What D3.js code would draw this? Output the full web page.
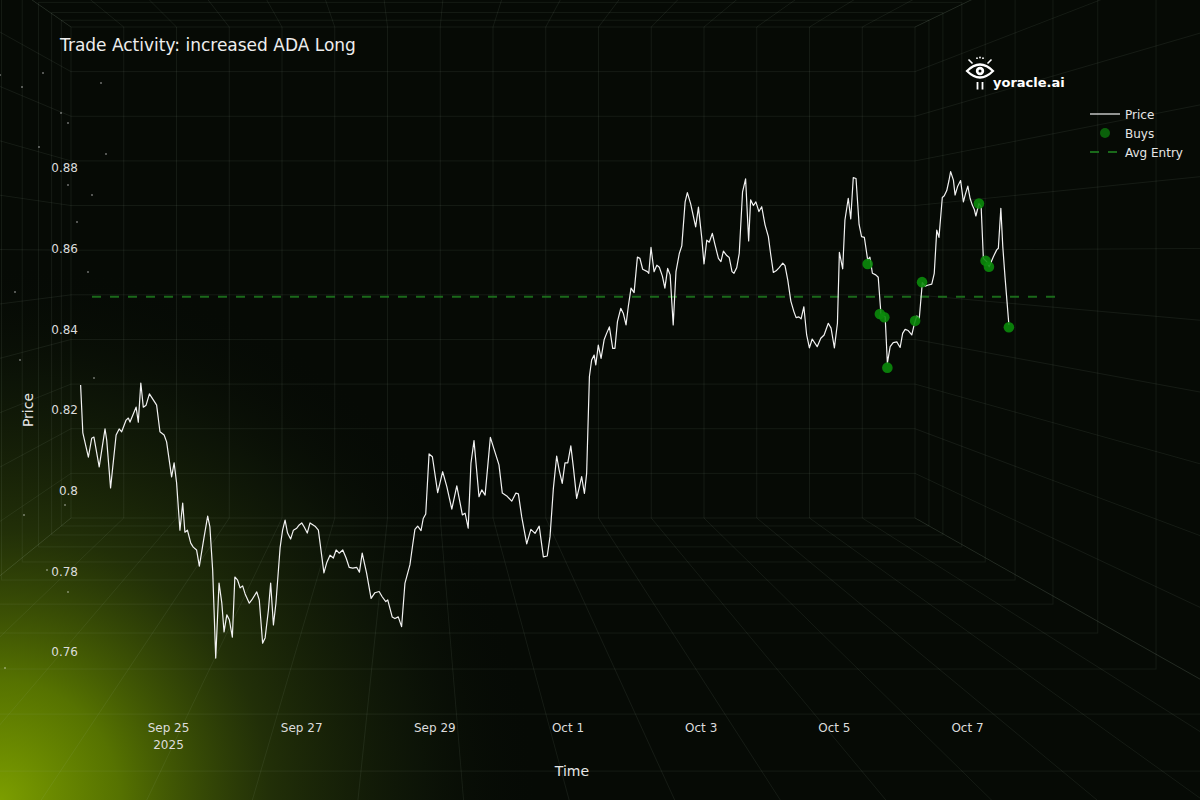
<!doctype html>
<html lang="en">
<head>
<meta charset="UTF-8">
<title>Trade Activity: increased ADA Long</title>
<script src="https://d3js.org/d3.v7.min.js"></script>
<style>
    html, body { margin: 0; padding: 0; background: #060a05; }
    svg { display: block; }
    text { font-family: "DejaVu Sans", sans-serif; }
</style>
</head>
<body>
<div class="container"></div>
<script>
    // data: hourly ADA price, hours counted from Sep 23 17:00
    const startTime = new Date(2025, 8, 23, 17);

    const priceHours = [
        -0.5, 0.3, 2.3, 3.5, 4.3, 6.2, 8.3, 8.9, 10.3, 12.3, 13.4, 14.3, 15.9, 16.7, 17.3, 19.5, 20.3, 21.2, 22.1, 23.1,
        24.3, 25.7, 26.9, 28.1, 29.6, 30.5, 32.3, 33.2, 34.1, 35.3, 36.3, 37.1, 38.0, 39.2, 40.1, 41.3, 42.3, 44.0, 45.3, 46.1,
        47.1, 48.2, 49.4, 50.4, 51.2, 52.2, 53.1, 54.2, 55.1, 56.1, 57.0, 57.9, 58.8, 60.3, 61.2, 63.0, 63.9, 65.1, 66.0, 67.2,
        68.0, 69.0, 69.9, 71.4, 72.3, 73.2, 74.1, 75.2, 76.2, 77.4, 78.3, 79.2, 80.1, 81.2, 82.2, 84.0, 85.2, 86.0, 87.2, 88.2,
        89.4, 90.6, 91.6, 92.7, 94.0, 95.2, 96.3, 97.6, 99.0, 100.0,
        101.0, 102.6, 104.2, 105.6, 107.1, 108.2, 109.5, 110.2, 111.8, 112.8, 114.0, 115.2, 116.4, 118.2, 119.1, 120.0, 121.0,
        122.2, 123.0, 123.9, 125.1, 126.3, 128.2, 130.0, 131.5, 133.3, 135.1, 137.1, 138.1, 139.2, 140.2, 141.3, 143.1, 144.1,
        145.3, 147.2, 148.6, 150.3, 151.5, 153.1, 154.9, 156.4, 157.3, 158.5, 160.3, 161.8, 163.3, 164.8, 166.3, 167.7, 168.7,
        169.9, 171.1, 172.0, 173.1, 174.1, 175.1, 176.2, 177.1, 178.3, 179.3, 180.1, 181.1, 181.9, 182.9, 183.7, 184.6, 185.2,
        186.1, 187.1, 188.2, 189.1, 190.1, 191.3, 192.1, 193.0, 194.2, 195.1, 196.1, 196.9, 197.9, 199.0, 200.2, 201.1, 202.1,
        203.8, 204.3, 205.1, 206.2, 207.2, 208.1, 209.2, 210.1, 211.1, 212.0, 213.1, 214.1, 215.3, 216.2, 217.4, 218.2, 219.4,
        221.2, 222.2, 223.4, 224.2, 225.2, 226.1,
        227.2, 228.2, 229.4, 230.3, 231.2, 232.4, 233.3, 234.3, 235.0, 236.0, 236.9, 238.1, 239.2, 240.3, 241.0, 242.0, 242.9,
        244.0, 245.0, 246.2, 247.4, 248.2, 249.2, 250.2, 251.3, 252.6, 253.4, 254.4, 255.5, 256.6, 257.4, 258.4, 259.2, 260.2,
        261.2, 262.2, 263.2, 265.0, 266.3, 267.5, 269.0, 270.0, 271.2, 272.3, 273.0, 274.2, 275.0, 276.2, 277.1, 278.0, 279.0,
        280.1, 281.0, 282.0, 283.2, 284.0, 284.9, 286.1, 287.0, 288.0, 289.5, 290.3, 291.3, 292.4, 293.7, 294.9, 295.8, 296.7,
        297.8, 299.1, 300.0, 300.9, 301.8, 302.9, 303.9, 305.1, 306.3, 307.2, 308.1, 308.9, 310.1, 310.8, 311.7, 312.5, 313.1,
        314.1, 314.7, 315.6, 316.7, 317.7, 318.5, 319.3, 320.1, 320.9, 321.6, 322.2, 323.3, 324.1, 324.9, 326.1, 327.0, 328.5,
        329.7, 330.3, 331.2, 331.9, 332.7, 334.1
    ];

    const priceValues = [
        0.8262, 0.8143, 0.8083, 0.8130, 0.8133, 0.8059, 0.8153, 0.8126, 0.8007, 0.8138, 0.8153, 0.8146, 0.8175, 0.8180, 0.8170, 0.8207, 0.8170, 0.8267, 0.8207, 0.8212,
        0.8240, 0.8225, 0.8212, 0.8146, 0.8138, 0.8121, 0.8034, 0.8069, 0.8019, 0.7902, 0.7969, 0.7897, 0.7902, 0.7870, 0.7860, 0.7853, 0.7813, 0.7885, 0.7937, 0.7910,
        0.7803, 0.7585, 0.7771, 0.7721, 0.7650, 0.7692, 0.7680, 0.7637, 0.7786, 0.7778, 0.7759, 0.7764, 0.7744, 0.7721, 0.7729, 0.7749, 0.7729, 0.7622, 0.7635, 0.7704,
        0.7771, 0.7667, 0.7721, 0.7858, 0.7902, 0.7927, 0.7895, 0.7880, 0.7902, 0.7907, 0.7915, 0.7920, 0.7910, 0.7895, 0.7920, 0.7912, 0.7902, 0.7860, 0.7796, 0.7821,
        0.7840, 0.7833, 0.7853, 0.7845, 0.7853, 0.7833, 0.7810, 0.7808, 0.7810, 0.7798,
        0.7845, 0.7795, 0.7733, 0.7747, 0.7750, 0.7737, 0.7725, 0.7729, 0.7687, 0.7683, 0.7687, 0.7663, 0.7770, 0.7816, 0.7861, 0.7904, 0.7912,
        0.7901, 0.7931, 0.7942, 0.8091, 0.8084, 0.7995, 0.8047, 0.8010, 0.7954, 0.8012, 0.7940, 0.7944, 0.7907, 0.8068, 0.8124, 0.7985, 0.8002,
        0.7989, 0.8132, 0.8101, 0.8064, 0.7994, 0.7987, 0.7974, 0.7994, 0.7992, 0.7935, 0.7868, 0.7904, 0.7894, 0.7912, 0.7836, 0.7838, 0.7886,
        0.8005, 0.8086, 0.8051, 0.8018, 0.8069, 0.8069, 0.8111, 0.8059, 0.7981, 0.8010, 0.8035, 0.7993, 0.8043, 0.8283, 0.8324, 0.8336, 0.8312,
        0.8361, 0.8328, 0.8374, 0.8390, 0.8406, 0.8353, 0.8353, 0.8419, 0.8452, 0.8440, 0.8411, 0.8456, 0.8502, 0.8491, 0.8579, 0.8576, 0.8549,
        0.8543, 0.8539, 0.8603, 0.8543, 0.8559, 0.8554, 0.8532, 0.8502, 0.8551, 0.8535, 0.8411, 0.8543, 0.8588, 0.8607, 0.8716, 0.8739, 0.8711,
        0.8654, 0.8703, 0.8626, 0.8562, 0.8621, 0.8616,
        0.8638, 0.8609, 0.8576, 0.8568, 0.8594, 0.8583, 0.8578, 0.8543, 0.8539, 0.8553, 0.8588, 0.8741, 0.8773, 0.8619, 0.8721, 0.8707, 0.8716,
        0.8692, 0.8704, 0.8659, 0.8630, 0.8588, 0.8541, 0.8545, 0.8553, 0.8564, 0.8558, 0.8522, 0.8470, 0.8444, 0.8429, 0.8431, 0.8426, 0.8456,
        0.8386, 0.8354, 0.8376, 0.8357, 0.8378, 0.8386, 0.8415, 0.8403, 0.8354, 0.8415, 0.8591, 0.8550, 0.8671, 0.8725, 0.8674, 0.8776, 0.8774,
        0.8660, 0.8630, 0.8628, 0.8572, 0.8579, 0.8539, 0.8535, 0.8529, 0.8436, 0.8431, 0.8316, 0.8357, 0.8367, 0.8369, 0.8355, 0.8390, 0.8400,
        0.8397, 0.8386, 0.8413, 0.8433, 0.8427, 0.8516, 0.8507, 0.8510, 0.8512, 0.8539, 0.8646, 0.8628, 0.8727, 0.8731, 0.8744, 0.8769, 0.8791,
        0.8770, 0.8733, 0.8754, 0.8769, 0.8716, 0.8737, 0.8755, 0.8725, 0.8708, 0.8698, 0.8681, 0.8712, 0.8704, 0.8576, 0.8568, 0.8555, 0.8580,
        0.8597, 0.8601, 0.8700, 0.8605, 0.8530, 0.8411
    ];

    // buys
    const buyHours = [283.2, 287.6, 289.2, 290.3, 300.3, 302.8, 323.3, 325.7, 326.9, 334.1];
    const buyValues = [0.8562, 0.8438, 0.8430, 0.8305, 0.8421, 0.8517, 0.8712, 0.8570, 0.8555, 0.8405];

    // average entry, and the hours it is drawn between
    const avgEntry = 0.8481;
    const avgEntryHours = [3.6, 353.2];

    const yTicks = [0.76, 0.78, 0.80, 0.82, 0.84, 0.86, 0.88];
    const xTickDates = [
        new Date(2025, 8, 25), new Date(2025, 8, 27), new Date(2025, 8, 29), new Date(2025, 9, 1),
        new Date(2025, 9, 3), new Date(2025, 9, 5), new Date(2025, 9, 7)
    ];

    const legendItems = ['Price', 'Buys', 'Avg Entry'];

    let width = 1200, height = 800;
    let hourToDate = h => new Date(startTime.getTime() + h * 3600e3);

    let svg = d3.select('.container')
        .append('svg')
        .attr('width', width)
        .attr('height', height);

    let defs = svg.append('defs');
    let glow = defs.append('radialGradient')
        .attr('id', 'glow')
        .attr('gradientUnits', 'userSpaceOnUse')
        .attr('cx', 0).attr('cy', height).attr('r', 540);
    [[0, '#7c9e00', 1], [0.22, '#5f7e00', 0.9], [0.5, '#34480a', 0.6], [0.78, '#16220a', 0.4], [1, '#060a05', 0]]
        .forEach(s => glow.append('stop')
            .attr('offset', s[0]).attr('stop-color', s[1]).attr('stop-opacity', s[2]));

    //nen
    svg.append('rect').attr('width', width).attr('height', height).attr('fill', '#060a05');
    svg.append('rect').attr('width', width).attr('height', height).attr('fill', 'url(#glow)');

    // decorative room grid in perspective
    let room = svg.append('g')
        .attr('fill', 'none')
        .attr('stroke', '#a9c2a9')
        .attr('stroke-opacity', 0.095)
        .attr('stroke-width', 1);

    let vp = {x: 417, y: 253};
    let wall = {x0: 71, x1: 915, y0: 27, y1: 518};
    let cols = 16, rows = 11;
    let sx = [1.028, 1.056, 1.094, 1.141, 1.201, 1.277, 1.367, 1.484, 1.64, 1.85, 2.15, 2.6];
    let sy = [1.03, 1.064, 1.109, 1.166, 1.234, 1.325, 1.434, 1.57, 1.74, 1.955, 2.25, 2.7];
    let gx = d3.range(cols + 1).map(i => wall.x0 + (wall.x1 - wall.x0) * i / cols);
    let gy = d3.range(rows + 1).map(j => wall.y0 + (wall.y1 - wall.y0) * j / rows);
    let px = (x, s) => vp.x + (x - vp.x) * s;
    let py = (y, s) => vp.y + (y - vp.y) * s;
    let sxMax = sx[sx.length - 1], syMax = sy[sy.length - 1];

    gx.forEach(x => {
        room.append('line').attr('x1', x).attr('x2', x).attr('y1', wall.y0).attr('y2', wall.y1);
        room.append('line').attr('x1', x).attr('y1', wall.y1).attr('x2', px(x, sxMax)).attr('y2', py(wall.y1, syMax));
        room.append('line').attr('x1', x).attr('y1', wall.y0).attr('x2', px(x, sxMax)).attr('y2', py(wall.y0, syMax));
    });
    gy.forEach(y => {
        room.append('line').attr('y1', y).attr('y2', y).attr('x1', wall.x0).attr('x2', wall.x1);
        room.append('line').attr('x1', wall.x0).attr('y1', y).attr('x2', px(wall.x0, sxMax)).attr('y2', py(y, syMax));
        room.append('line').attr('x1', wall.x1).attr('y1', y).attr('x2', px(wall.x1, sxMax)).attr('y2', py(y, syMax));
    });
    sx.forEach((s, k) => {
        let x0 = px(wall.x0, s), x1 = px(wall.x1, s);
        let y0 = py(wall.y0, sy[k]), y1 = py(wall.y1, sy[k]);
        room.append('rect').attr('x', x0).attr('y', y0).attr('width', x1 - x0).attr('height', y1 - y0);
    });

    // bui sang
    let stars = [[0, 75], [43, 73], [101, 83], [22, 87], [61, 113], [68, 123], [39, 147], [106, 154], [68, 185],
        [92, 195], [77, 222], [88, 272], [15, 292], [20, 360], [94, 378], [65, 505], [24, 515], [47, 570], [68, 592], [5, 668]];
    svg.append('g').selectAll('circle').data(stars).join('circle')
        .attr('cx', d => d[0]).attr('cy', d => d[1]).attr('r', 0.8)
        .attr('fill', '#ffffff').attr('opacity', 0.7);

    // scales
    let x = d3.scaleTime()
        .domain([xTickDates[0], xTickDates[xTickDates.length - 1]])
        .range([168, 967]);
    let y = d3.scaleLinear()
        .domain([0.76, 0.88])
        .range([652, 168]);

    // y axis
    let yAxis = svg.append('g')
        .attr('transform', 'translate(80,0)')
        .call(d3.axisLeft(y).tickValues(yTicks).tickSize(0).tickPadding(2).tickFormat(d3.format('~g')));
    yAxis.select('.domain').remove();
    yAxis.selectAll('text')
        .attr('fill', '#dcdcdc')
        .style('font-size', '12px')
        .style('font-family', '"DejaVu Sans", sans-serif');

    // x axis
    let xAxis = svg.append('g')
        .attr('transform', 'translate(0,716)')
        .call(d3.axisBottom(x).tickValues(xTickDates).tickSize(0).tickPadding(7).tickFormat(d3.timeFormat('%b %-d')));
    xAxis.select('.domain').remove();
    xAxis.selectAll('text')
        .attr('fill', '#dcdcdc')
        .style('font-size', '12px')
        .style('font-family', '"DejaVu Sans", sans-serif');
    xAxis.select('.tick text')
        .append('tspan')
        .attr('x', 0)
        .attr('dy', '1.42em')
        .text(d3.timeFormat('%Y')(xTickDates[0]));

    // axis titles
    svg.append('text')
        .attr('x', 572).attr('y', 776)
        .attr('text-anchor', 'middle')
        .attr('fill', '#e6e6e6')
        .style('font-size', '14px')
        .text('Time');
    svg.append('text')
        .attr('transform', 'translate(33,410) rotate(-90)')
        .attr('text-anchor', 'middle')
        .attr('fill', '#e6e6e6')
        .style('font-size', '14px')
        .text('Price');

    // avg entry
    svg.append('line')
        .attr('x1', x(hourToDate(avgEntryHours[0])))
        .attr('x2', x(hourToDate(avgEntryHours[1])))
        .attr('y1', y(avgEntry))
        .attr('y2', y(avgEntry))
        .attr('stroke', '#1f7a1f')
        .attr('stroke-opacity', 0.85)
        .attr('stroke-width', 2)
        .attr('stroke-dasharray', '9,9');

    // price
    let line = d3.line()
        .x((d, i) => x(hourToDate(priceHours[i])))
        .y(d => y(d));
    svg.append('path')
        .datum(priceValues)
        .attr('d', line)
        .attr('fill', 'none')
        .attr('stroke', '#f2f2f2')
        .attr('stroke-width', 1.2)
        .attr('stroke-linejoin', 'round');

    // buys
    svg.append('g').selectAll('circle')
        .data(buyValues)
        .join('circle')
        .attr('cx', (d, i) => x(hourToDate(buyHours[i])))
        .attr('cy', d => y(d))
        .attr('r', 5.3)
        .attr('fill', '#0b8a0b')
        .attr('opacity', 0.9);

    // title
    svg.append('text')
        .attr('x', 60).attr('y', 51)
        .attr('fill', '#eeeeee')
        .style('font-size', '17px')
        .text('Trade Activity: increased ADA Long');

    // logo
    let logo = svg.append('g').attr('transform', 'translate(980,71)');
    logo.append('path')
        .attr('d', 'M-13,0 Q0,-13 13,0 Q0,13 -13,0 Z')
        .attr('fill', 'none')
        .attr('stroke', '#ffffff')
        .attr('stroke-width', 2.2);
    logo.append('circle').attr('r', 4.2).attr('fill', '#ffffff');
    logo.append('circle').attr('r', 1.5).attr('fill', '#060a05');
    logo.append('line').attr('x1', -11.5).attr('y1', -11.5).attr('x2', -7.5).attr('y2', -7.5)
        .attr('stroke', '#fff').attr('stroke-width', 1.6);
    logo.append('line').attr('x1', 11.5).attr('y1', -11.5).attr('x2', 7.5).attr('y2', -7.5)
        .attr('stroke', '#fff').attr('stroke-width', 1.6);
    [-3, 0, 3].forEach(dx => logo.append('circle')
        .attr('cx', dx).attr('cy', dx === 0 ? -13.5 : -12.8).attr('r', 0.9).attr('fill', '#fff'));
    [-2.5, 2.5].forEach(dx => logo.append('rect')
        .attr('x', dx - 0.9).attr('y', 11).attr('width', 1.8).attr('height', 7.5).attr('fill', '#fff'));
    svg.append('text')
        .attr('x', 993).attr('y', 87)
        .attr('fill', '#ffffff')
        .style('font-size', '13px')
        .style('font-weight', 'bold')
        .text('yoracle.ai');

    // legend
    let legend = svg.append('g').attr('transform', 'translate(1090,114)');
    legendItems.forEach((name, i) => {
        let g = legend.append('g').attr('transform', 'translate(0,' + (i * 19) + ')');
        if (i === 0) {
            g.append('line').attr('x1', 0).attr('x2', 30).attr('stroke', '#f2f2f2').attr('stroke-width', 1.2);
        } else if (i === 1) {
            g.append('circle').attr('cx', 15).attr('r', 5).attr('fill', '#0b6a0b').attr('opacity', 0.9);
        } else {
            g.append('line').attr('x1', 0).attr('x2', 30)
                .attr('stroke', '#1f7a1f').attr('stroke-opacity', 0.85)
                .attr('stroke-width', 2).attr('stroke-dasharray', '9,9');
        }
        g.append('text')
            .attr('x', 35).attr('y', 4.5)
            .attr('fill', '#e6e6e6')
            .style('font-size', '12px')
            .text(name);
    });
</script>
</body>
</html>
